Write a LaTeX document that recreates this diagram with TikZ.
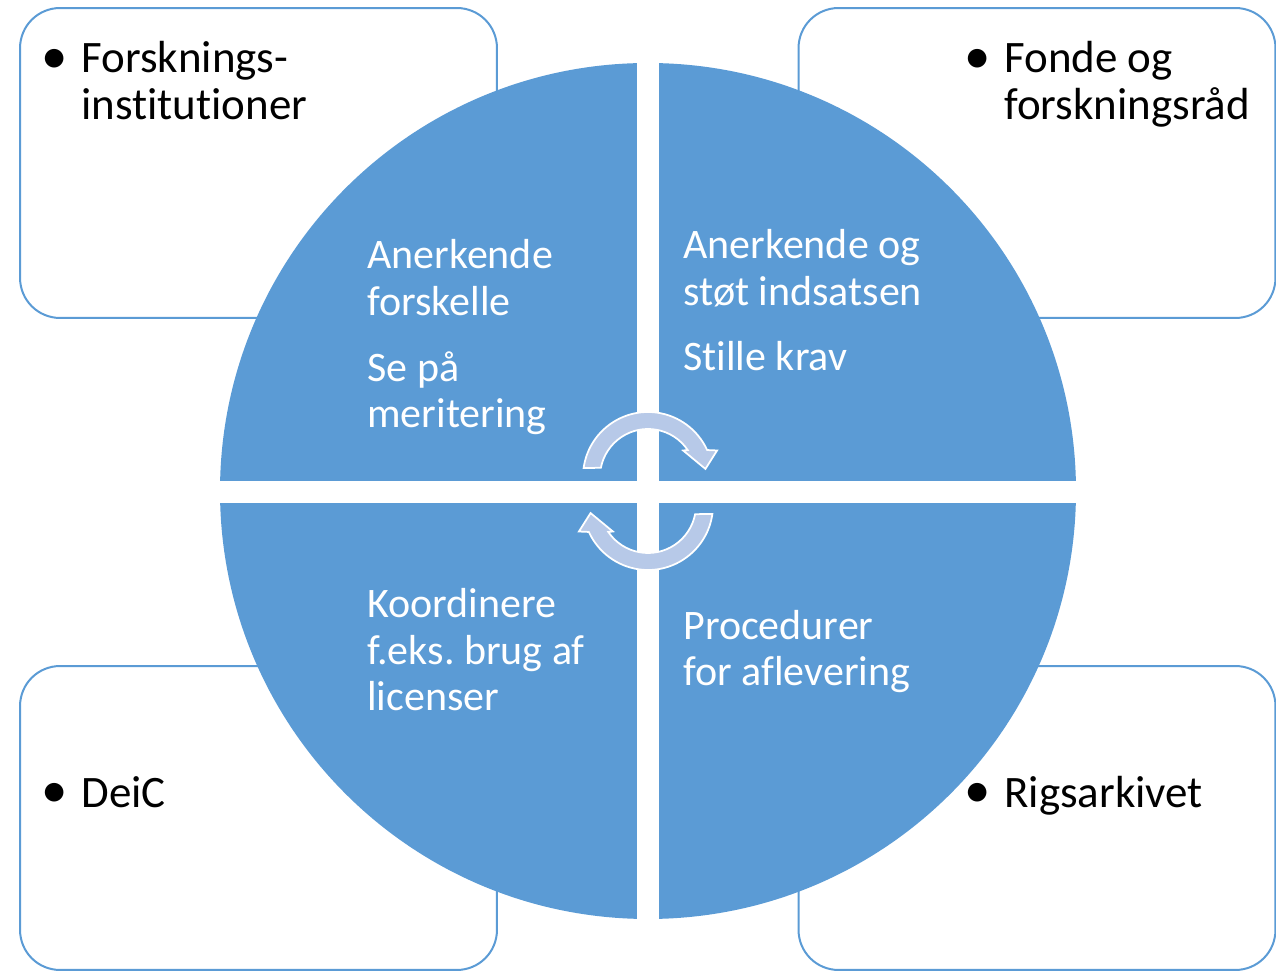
\documentclass[tikz,border=0pt]{standalone}
\usepackage{fontspec}
\setmainfont{Carlito}[Ligatures = NoCommon]
\usetikzlibrary{calc}
\usetikzlibrary{positioning}

\definecolor{blaa}{RGB}{91,155,213}
\definecolor{lysblaa}{RGB}{183,201,232}

\frenchspacing

\begin{document}
\begin{tikzpicture}[x = 0.02cm, y = 0.02cm,
  boks/.style = {draw = blaa, line width = 0.04cm, rounded corners = 0.8cm,
    minimum width = 9.54cm, inner sep = 0pt},
  felt/.style = {fill = blaa},
  pil/.style = {fill = lysblaa, draw = white, line width = 0.035cm},
  sort/.style = {font = \fontsize{25.6}{26.8}\selectfont, align = left,
    anchor = base west, inner sep = 0pt},
  hvid/.style = {font = \fontsize{23.9}{26.5}\selectfont, align = left,
    anchor = base west, inner sep = 0pt, text = white},
  punkt/.style = {font = \fontsize{30}{30}\selectfont, inner sep = 0pt}]
  \useasboundingbox (0, 0) rectangle (1276, -972);

  \node[boks, minimum height = 6.2cm] (fi) at (258.5, -163) {};
  \node[boks, minimum height = 6.2cm] (fr) at (1037, -163) {};
  \node[boks, minimum height = 6.08cm] (dc) at (258.5, -818) {};
  \node[boks, minimum height = 6.08cm] (ra) at (1037, -818) {};

  \coordinate (M) at (648, -491);
  \fill[felt] (M) circle[radius = 428];
  \fill[white] (637, -55) rectangle (659, -925);
  \fill[white] (212, -481) rectangle (1084, -503);

  \coordinate (T) at (648, -477);
  \coordinate (B) at (648, -505);
  \filldraw[pil] ($(T) + (172:65)$) arc[start angle = 172, end angle = 24.5, radius = 65]
   -- ($(T) + (21:74)$) -- ($(T) + (8:58)$) -- ($(T) + (37:44)$)
   -- ($(T) + (34.2:48)$) arc[start angle = 34.2, end angle = 169, radius = 48] -- cycle;
  \filldraw[pil] ($(B) + (352:65)$) arc[start angle = 352, end angle = 204.5, radius = 65]
   -- ($(B) + (201:74)$) -- ($(B) + (188:58)$) -- ($(B) + (217:44)$)
   -- ($(B) + (214.2:48)$) arc[start angle = 214.2, end angle = 349, radius = 48] -- cycle;

  \node[hvid] (q1) at (367, -428) {Anerkende\\forskelle\\[11pt]Se på\\meritering};
  \node[hvid] (q2) at (683, -371) {Anerkende og\\støt indsatsen\\[11pt]Stille krav};
  \node[hvid] (q3) at (367, -711) {Koordinere\\f.eks. brug af\\licenser};
  \node[hvid] (q4) at (683, -686) {Procedurer\\for aflevering};

  \node[sort] (t1) at (81, -120) {Forsknings-\\institutioner};
  \node[sort] (t2) at (1004, -120) {Fonde og\\forskningsråd};
  \node[sort] (t3) at (81, -808) {DeiC};
  \node[sort] (t4) at (1004, -808) {Rigsarkivet};
  \node[punkt] (p1) at (55, -61) {\textbullet};
  \node[punkt] (p2) at (978, -61) {\textbullet};
  \node[punkt] (p3) at (55, -795) {\textbullet};
  \node[punkt] (p4) at (978, -795) {\textbullet};
\end{tikzpicture}
\end{document}
